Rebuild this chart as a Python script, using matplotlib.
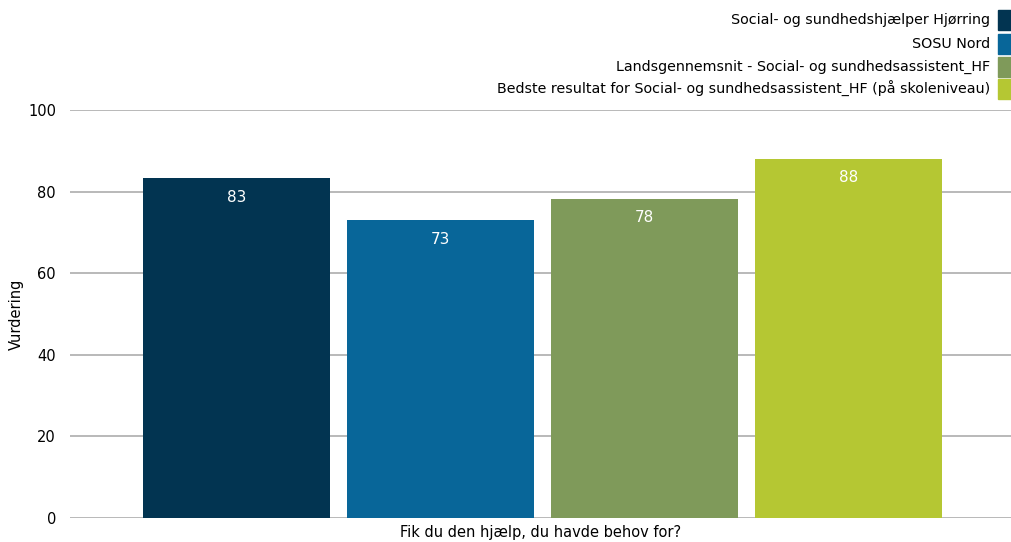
import numpy as np
import matplotlib.pyplot as plt
from matplotlib.patches import Rectangle

plt.rcParams['font.family'] = ['DejaVu Sans']

series = ['Social- og sundhedshjælper Hjørring',
          'SOSU Nord',
          'Landsgennemsnit - Social- og sundhedsassistent_HF',
          'Bedste resultat for Social- og sundhedsassistent_HF (på skoleniveau)']
values = [83.3, 73.0, 78.2, 88.0]
labels = ['83', '73', '78', '88']
colors = ['#023451', '#086699', '#7f9a5a', '#b5c733']
yticks = [0, 20, 40, 60, 80, 100]

fig = plt.figure(figsize=(10.12, 5.42), dpi=100)
W, H = 1012, 542
ax = fig.add_axes([70 / W, (H - 518) / H, (1012 - 70) / W, (518 - 110) / H])

x = np.arange(len(values))
bars = ax.bar(x, values, width=0.917, color=colors, zorder=3)
for b, lab in zip(bars, labels):
    ax.text(b.get_x() + b.get_width() / 2, b.get_height() - 2.8, lab,
            ha='center', va='top', color='white', fontsize=11, zorder=4)

ax.set_xlim(-0.816, 3.80)
ax.set_ylim(0, 100)
ax.set_yticks(yticks)
ax.set_xticks([])
ax.grid(axis='y', color='#b3b3b3', linewidth=1.3, zorder=0)
for s in ax.spines.values():
    s.set_visible(False)
ax.tick_params(axis='y', length=0, pad=10, labelsize=10.5)
fig.text(16 / W, 1 - 314 / H, 'Vurdering', rotation=90,
         ha='center', va='center', fontsize=10.5)
fig.text(541 / W, 1 - 533 / H, 'Fik du den hjælp, du havde behov for?',
         ha='center', va='center', fontsize=10.5)

# legend
ys = [20, 44, 67, 89]
for lab, col, yy in zip(series, colors, ys):
    fig.text(990 / W, 1 - yy / H, lab, ha='right', va='center', fontsize=10.3)
    fig.patches.append(Rectangle((998 / W, 1 - (yy + 10) / H), 13 / W, 20 / H,
                                 transform=fig.transFigure, color=col))

fig.savefig('out.png', dpi=100)
